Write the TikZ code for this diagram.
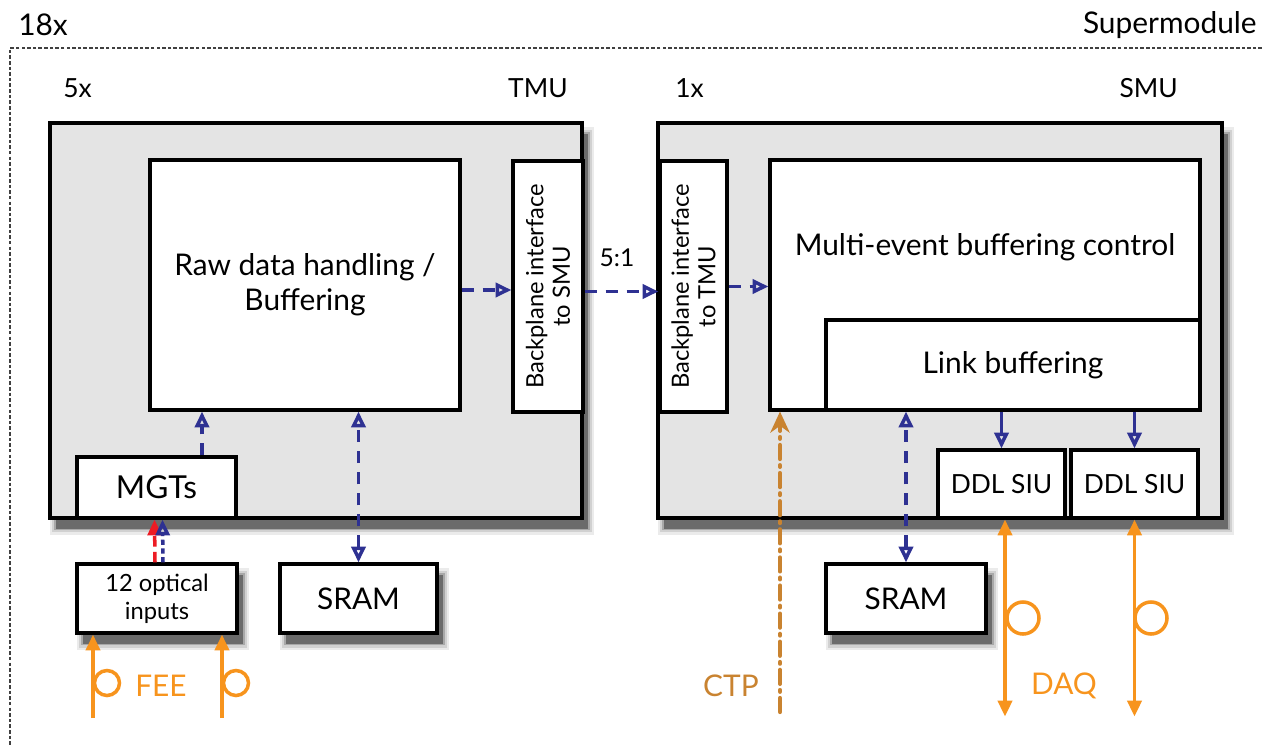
\documentclass[tikz,border=0pt]{standalone}
\usepackage{fontspec}
\setmainfont{Lato}
\usetikzlibrary{arrows.meta}
\definecolor{navy}{HTML}{2E3192}
\definecolor{boxgray}{HTML}{E4E4E4}
\definecolor{fibre}{HTML}{F7941D}
\definecolor{ctpbrown}{HTML}{C98330}
\definecolor{sigred}{HTML}{ED1C24}
\tikzset{fibtip/.tip={Triangle[length=9pt,width=8pt]},
  opentip/.tip={Triangle[open,length=9pt,width=8pt]}}

\begin{document}
\begin{tikzpicture}[x=0.02cm,y=-0.02cm]
      \tikzstyle shade=[
      preaction={fill=black!8, draw=black!8, line width=7pt, transform canvas={shift={(3.5pt,-6pt)}}},
      preaction={fill=black!18, draw=black!18, line width=4.5pt, transform canvas={shift={(3.5pt,-6pt)}}},
      preaction={fill=black!34, draw=black!34, line width=2pt, transform canvas={shift={(3.5pt,-6pt)}}},
      preaction={fill=black!58, draw=none, transform canvas={shift={(3.5pt,-6pt)}}}]
      \tikzstyle unit=[draw, line width=1.8pt, fill=boxgray, shade]
      \tikzstyle blk=[draw, line width=1.8pt, fill=white, align=center,
      inner sep=0pt, font=\fontsize{17}{20}\selectfont]
      \tikzstyle ext=[blk, shade]
      \tikzstyle tag=[font=\fontsize{15}{18}\selectfont, inner sep=0pt]
      \tikzstyle bus=[navy, line width=2pt, dash pattern=on 7pt off 5pt, -opentip]
      \tikzstyle fib=[fibre, line width=2pt]
      \useasboundingbox (0,0) rectangle (1262,745);
      % supermodule frame
      \draw [line width=0.6pt, dash pattern=on 2pt off 1.2pt, black!75] (1262,48) -- (10,48) -- (10,745);
      \node (n18) [tag, anchor=west, font=\fontsize{17}{20}\selectfont] at (18,25) {18x};
      \node (sup) [tag, anchor=east, font=\fontsize{17}{20}\selectfont] at (1257,25) {Supermodule};
      % TMU
      \node (tmu) [unit, minimum width=10.64cm, minimum height=7.9cm] at (316,320.5) {};
      \node (n5) [tag, anchor=west] at (63,88) {5x};
      \node (tmul) [tag, anchor=east] at (568,88) {TMU};
      \node (raw) [blk, minimum width=6.2cm, minimum height=5cm] at (305,285)
        {Raw data handling /\\Buffering};
      \node (bpt) [blk, rotate=90, minimum width=5.02cm, minimum height=1.4cm,
        font=\fontsize{13.5}{15}\selectfont] at (548,286.5) {Backplane interface\\to SMU};
      \node (mgt) [blk, minimum width=3.18cm, minimum height=1.22cm,
        font=\fontsize{18}{21}\selectfont] at (156.5,487.5) {MGTs};
      \node (opt) [ext, minimum width=3.2cm, minimum height=1.38cm,
        font=\fontsize{13.5}{16}\selectfont] at (157,598.5) {12 optical\\inputs};
      \node (sram1) [ext, minimum width=3.14cm, minimum height=1.38cm,
        font=\fontsize{17}{20}\selectfont] at (358.5,598.5) {SRAM};
      % SMU
      \node (smu) [unit, minimum width=11.28cm, minimum height=7.9cm] at (940,320.5) {};
      \node (n1) [tag, anchor=west] at (675,88) {1x};
      \node (smul) [tag, anchor=east] at (1178,88) {SMU};
      \node (bps) [blk, rotate=90, minimum width=5.02cm, minimum height=1.34cm,
        font=\fontsize{13.5}{15}\selectfont] at (693.5,286.5) {Backplane interface\\to TMU};
      \node (mev) [blk, minimum width=8.6cm, minimum height=5cm,
        label={[yshift=0.76cm, font=\fontsize{17}{20}\selectfont]center:Multi-event buffering control}]
        at (985,285) {};
      \node (link) [blk, minimum width=7.48cm, minimum height=1.8cm] at (1013,365) {Link buffering};
      \node (ddl1) [blk, minimum width=2.54cm, minimum height=1.36cm,
        font=\fontsize{15}{18}\selectfont] at (1001.5,484) {DDL SIU};
      \node (ddl2) [blk, minimum width=2.54cm, minimum height=1.36cm,
        font=\fontsize{15}{18}\selectfont] at (1134.5,484) {DDL SIU};
      \node (sram2) [ext, minimum width=3.2cm, minimum height=1.38cm,
        font=\fontsize{17}{20}\selectfont] at (906,598.5) {SRAM};
      % data path
      \draw [bus] ([xshift=0.91cm]mgt.north) coordinate (m1) -- (m1 |- raw.south);
      \draw [bus, opentip-opentip] (sram1.north) -- (sram1.north |- raw.south);
      \draw [bus] ([yshift=-0.1cm]raw.east) coordinate (r1) -- (r1 -| bpt.north);
      \draw [bus] ([yshift=-0.1cm]bpt.south) coordinate (b1) -- (b1 -| bps.north);
      \node (ratio) [tag, font=\fontsize{14}{16}\selectfont] at (617,258) {5:1};
      \draw [bus] (bps.south) -- (bps.south -| mev.west);
      \draw [bus, solid] (ddl1.north |- link.south) -- (ddl1.north);
      \draw [bus, solid] (ddl2.north |- link.south) -- (ddl2.north);
      \draw [bus, opentip-opentip] (sram2.north) -- (sram2.north |- mev.south);
      \draw [sigred, line width=2pt, dash pattern=on 6pt off 3pt,
        -{Triangle[length=9pt,width=8pt]}]
        ([xshift=-0.04cm]opt.north) -- ([xshift=-0.04cm]mgt.south);
      \draw [bus, dash pattern=on 3pt off 2pt] ([xshift=0.12cm]opt.north) -- ([xshift=0.12cm]mgt.south);
      % FEE fibres
      \coordinate (fee1) at (93,718);
      \coordinate (fee2) at (222,718);
      \draw [fib, -fibtip] (fee1) -- (fee1 |- opt.south);
      \draw [fib, -fibtip] (fee2) -- (fee2 |- opt.south);
      \draw [fib] (107,683) circle [radius=12.5];
      \draw [fib] (236,683) circle [radius=12.5];
      \node (fee) [tag, text=fibre, font=\fontsize{17}{20}\selectfont] at (161,686) {FEE};
      % CTP
      \coordinate (ctp) at (780,712);
      \draw [ctpbrown, line width=2.4pt, line cap=round,
        dash pattern=on 8pt off 3.5pt on 1pt off 3.5pt, -{Stealth[length=12pt,width=11pt]}]
        (ctp) -- (ctp |- mev.south);
      \node (ctpl) [tag, text=ctpbrown, font=\fontsize{17}{20}\selectfont] at (731,686) {CTP};
      % DAQ fibres
      \draw [fib, fibtip-fibtip] ([xshift=0.07cm]ddl1.south) -- ++(0,-3.94cm);
      \draw [fib, fibtip-fibtip] (ddl2.south) -- ++(0,-3.94cm);
      \draw [fib] (1023,618) circle [radius=16];
      \draw [fib] (1151,618) circle [radius=16];
      \node (daq) [tag, text=fibre, font=\fontsize{17}{20}\selectfont] at (1064,686) {DAQ};
    \end{tikzpicture}
\end{document}
